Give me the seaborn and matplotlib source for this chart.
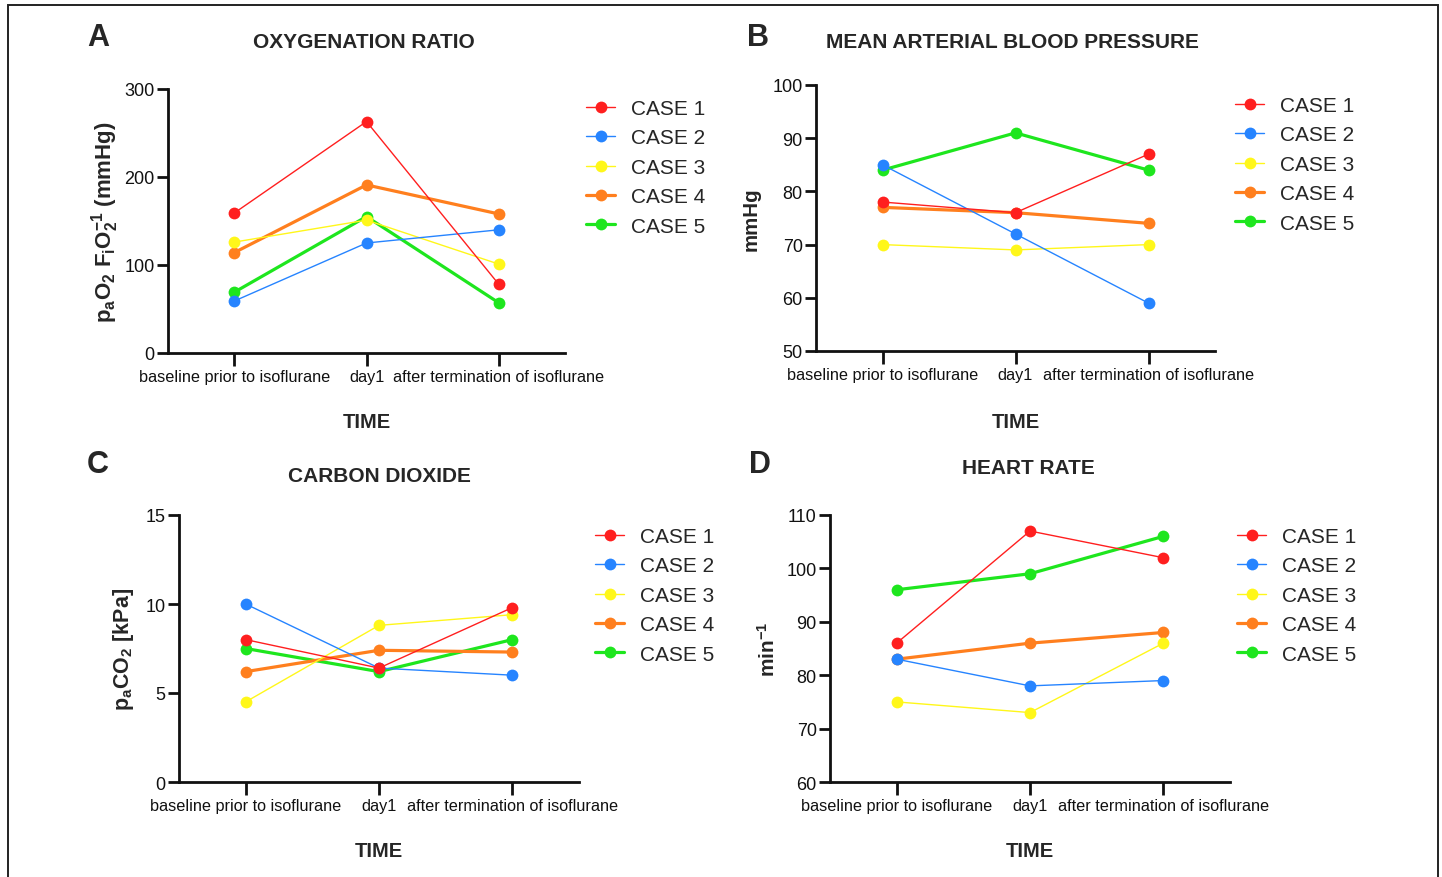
import numpy as np
import pandas as pd
import matplotlib
matplotlib.use("Agg")
import matplotlib.pyplot as plt
from matplotlib.patches import Rectangle
import seaborn as sns

# time points and cases
times = ['baseline prior to isoflurane', 'day1', 'after termination of isoflurane']
cases = ['CASE 1', 'CASE 2', 'CASE 3', 'CASE 4', 'CASE 5']

# values, one row per case
oxygenation = [[159, 263, 78],
               [59, 125, 140],
               [126, 151, 101],
               [114, 191, 158],
               [69, 155, 57]]
map_pressure = [[78, 76, 87],
                [85, 72, 59],
                [70, 69, 70],
                [77, 76, 74],
                [84, 91, 84]]
co2 = [[8.0, 6.4, 9.8],
       [10.0, 6.4, 6.0],
       [4.5, 8.8, 9.4],
       [6.2, 7.4, 7.3],
       [7.5, 6.2, 8.0]]
heart_rate = [[86, 107, 102],
              [83, 78, 79],
              [75, 73, 86],
              [83, 86, 88],
              [96, 99, 106]]

colors = ['#FF1F1F', '#2684FF', '#FFF71A', '#FF7F1E', '#1EE61E']
widths = [1.0, 1.0, 1.0, 2.3, 2.3]

sns.set_style('ticks')
plt.rcParams['font.family'] = ['Liberation Sans', 'DejaVu Sans']
plt.rcParams['mathtext.fontset'] = 'custom'
plt.rcParams['mathtext.rm'] = 'Liberation Sans'
plt.rcParams['mathtext.bf'] = 'Liberation Sans:bold'
plt.rcParams['mathtext.it'] = 'Liberation Sans:italic'
plt.rcParams['mathtext.default'] = 'bf'

W, H = 1442, 878
fig = plt.figure(figsize=(W / 100, H / 100), dpi=100)


def px(x, y):
    return x / W, 1 - y / H


def make_axes(left, right, top, bottom):
    return fig.add_axes([left / W, 1 - bottom / H, (right - left) / W, (bottom - top) / H])


panels = [
    # data, axes box (l, r, t, b), ylim, yticks, ylabel, label size, ylabel coords, legend top-left
    (oxygenation, (168, 565, 90, 354), (0, 300), [0, 100, 200, 300],
     r'$p_aO_2\ F_iO_2^{-1}$ (mmHg)', 16, (-0.159, 0.5), (586, 100)),
    (map_pressure, (816, 1215, 86, 352), (50, 100), [50, 60, 70, 80, 90, 100],
     'mmHg', 14.8, (-0.163, 0.5), (1235, 97)),
    (co2, (179, 579, 516, 783), (0, 15), [0, 5, 10, 15],
     r'$p_aCO_2$ [kPa]', 15.5, (-0.1375, 0.5), (595, 528)),
    (heart_rate, (830, 1230, 516, 783), (60, 110), [60, 70, 80, 90, 100, 110],
     r'min$^{-1}$', 15, (-0.155, 0.5), (1237, 528)),
]

for data, box, ylim, yticks, ylabel, lsize, ycoords, legpos in panels:
    ax = make_axes(*box)
    for i, case in enumerate(cases):
        df = pd.DataFrame({'time': np.arange(len(times)), 'value': data[i]})
        sns.lineplot(data=df, x='time', y='value', ax=ax, color=colors[i],
                     linewidth=widths[i], marker='o', markersize=8.5,
                     markeredgewidth=0, label=case, errorbar=None,
                     zorder=10 - i, clip_on=False)
    ax.set_xlim(-0.5, 2.5)
    ax.set_ylim(*ylim)
    ax.set_yticks(yticks)
    ax.set_xticks(range(len(times)))
    ax.set_xticklabels(times, fontsize=11.7)
    ax.tick_params(axis='y', labelsize=13, length=8, width=2, pad=1.5, colors='#111111')
    ax.tick_params(axis='x', length=9, width=2, pad=2.5, colors='#111111')
    sns.despine(ax=ax)
    for s in ['left', 'bottom']:
        ax.spines[s].set_linewidth(2)
        ax.spines[s].set_color('#111111')
    ax.set_xlabel('TIME', fontsize=14.5, fontweight='bold')
    ax.xaxis.set_label_coords(0.5, (box[3] - 423 if box[2] < 200 else box[3] - 852) / (box[3] - box[2]))
    ax.xaxis.label.set_va('center')
    ax.set_ylabel(ylabel, fontsize=lsize, fontweight='bold')
    ax.yaxis.set_label_coords(*ycoords)
    ax.yaxis.label.set_va('center')
    ax.legend(loc='upper left', bbox_to_anchor=px(*legpos), bbox_transform=fig.transFigure,
              frameon=False, fontsize=15, borderpad=0, borderaxespad=0,
              handlelength=1.4, handletextpad=0.75, labelspacing=0.5)

# panel letters and titles
for letter, (x, y) in zip('ABCD', [(98, 38), (758, 38), (98, 465), (760, 465)]):
    fig.text(*px(x, y), letter, fontsize=22, fontweight='bold', ha='center', va='center')
titles = ['OXYGENATION RATIO', 'MEAN ARTERIAL BLOOD PRESSURE', 'CARBON DIOXIDE', 'HEART RATE']
for title, (x, y) in zip(titles, [(364, 42), (1012, 42), (379, 477), (1028, 469)]):
    fig.text(*px(x, y), title, fontsize=15, fontweight='bold', ha='center', va='center')

# outer frame
fig.add_artist(Rectangle((8 / W, -0.02), (1438 - 8) / W, 1 - 6 / H + 0.02,
                         transform=fig.transFigure, fill=False, lw=1.4, ec='#222222'))

fig.savefig('out.png', dpi=100)
